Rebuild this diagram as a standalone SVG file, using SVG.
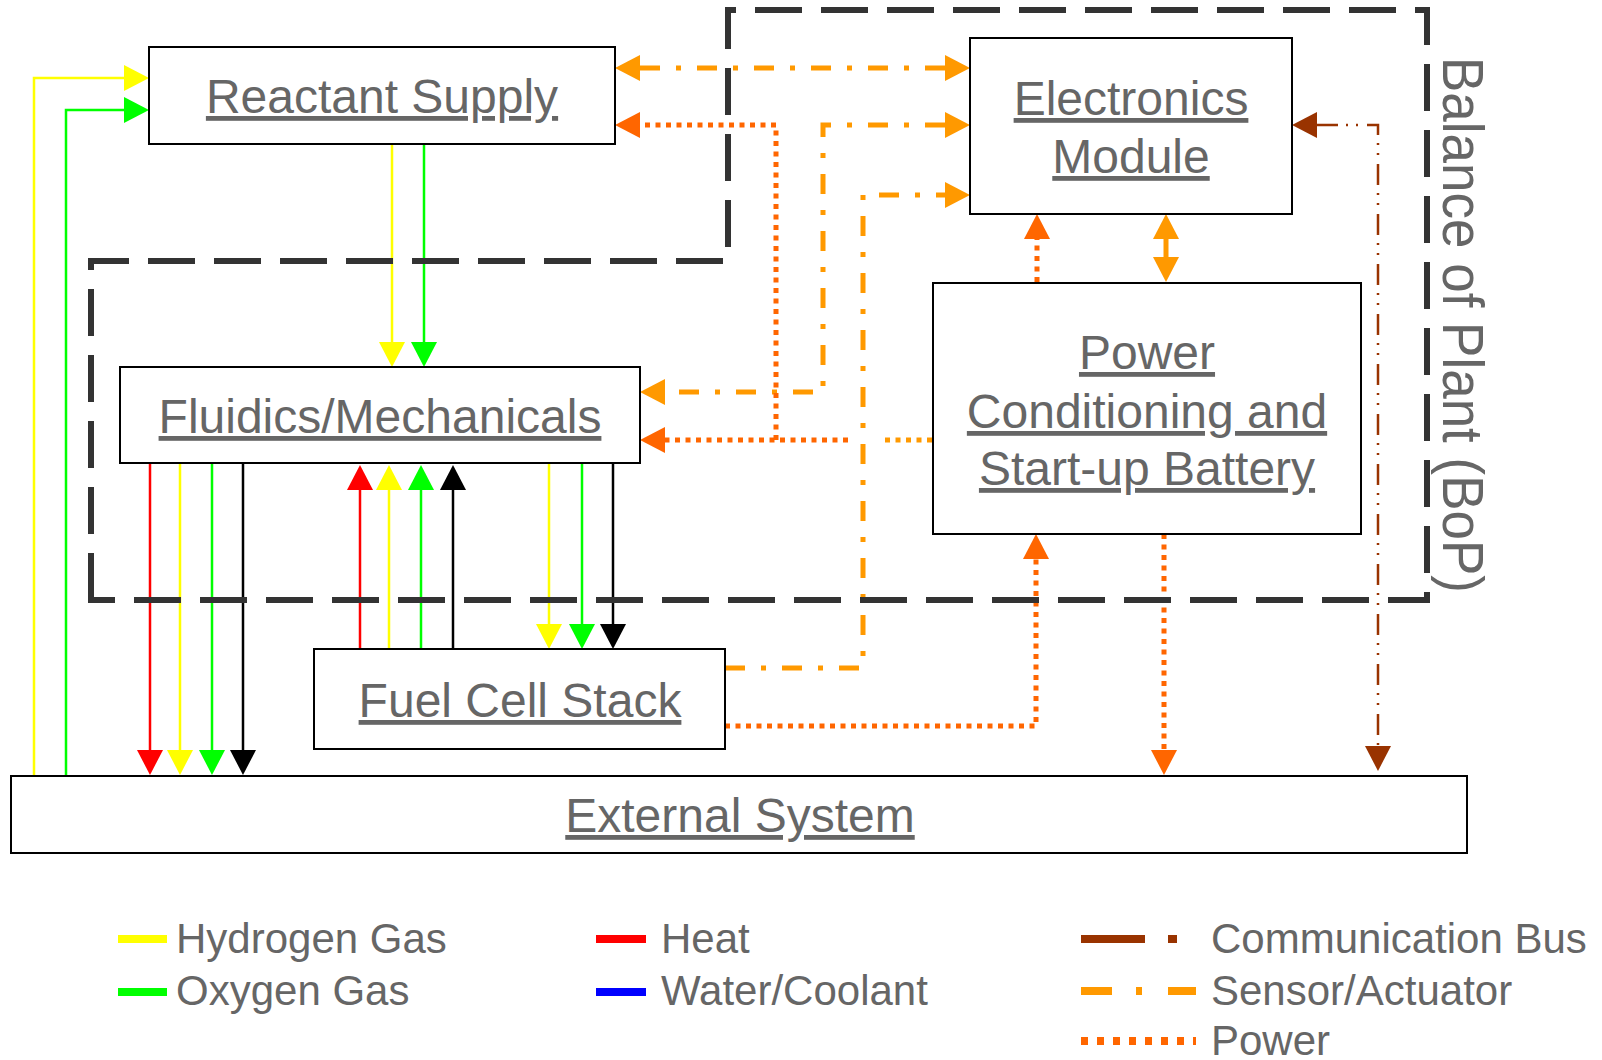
<svg xmlns="http://www.w3.org/2000/svg" width="1602" height="1060" viewBox="0 0 1602 1060">
<style>
.box{fill:#fff;stroke:#000;stroke-width:2}
.lbl{font-family:"Liberation Sans",Arial,Helvetica,sans-serif;font-size:48px;fill:#666;text-anchor:middle;text-decoration:underline}
.leg{font-family:"Liberation Sans",Arial,Helvetica,sans-serif;font-size:42px;fill:#666}
.gas{fill:none;stroke-width:2.5}
.sen{fill:none;stroke:#f90;stroke-width:5;stroke-dasharray:20 16 5 16}
.pow{fill:none;stroke:#f60;stroke-width:5;stroke-dasharray:5 5.5}
.bus{fill:none;stroke:#930;stroke-width:2.5;stroke-dasharray:21 8 2 8 2 9}
</style>
<defs>
<marker id="aY" viewBox="0 0 25 26" markerWidth="25" markerHeight="26" refX="0" refY="13" orient="auto-start-reverse" markerUnits="userSpaceOnUse"><path d="M0,0L25,13L0,26z" fill="#ff0"/></marker>
<marker id="aG" viewBox="0 0 25 26" markerWidth="25" markerHeight="26" refX="0" refY="13" orient="auto-start-reverse" markerUnits="userSpaceOnUse"><path d="M0,0L25,13L0,26z" fill="#0f0"/></marker>
<marker id="aR" viewBox="0 0 25 26" markerWidth="25" markerHeight="26" refX="0" refY="13" orient="auto-start-reverse" markerUnits="userSpaceOnUse"><path d="M0,0L25,13L0,26z" fill="#f00"/></marker>
<marker id="aK" viewBox="0 0 25 26" markerWidth="25" markerHeight="26" refX="0" refY="13" orient="auto-start-reverse" markerUnits="userSpaceOnUse"><path d="M0,0L25,13L0,26z" fill="#000"/></marker>
<marker id="aS" viewBox="0 0 25 26" markerWidth="25" markerHeight="26" refX="0" refY="13" orient="auto-start-reverse" markerUnits="userSpaceOnUse"><path d="M0,0L25,13L0,26z" fill="#f90"/></marker>
<marker id="aP" viewBox="0 0 25 26" markerWidth="25" markerHeight="26" refX="0" refY="13" orient="auto-start-reverse" markerUnits="userSpaceOnUse"><path d="M0,0L25,13L0,26z" fill="#f60"/></marker>
<marker id="aB" viewBox="0 0 25 26" markerWidth="25" markerHeight="26" refX="0" refY="13" orient="auto-start-reverse" markerUnits="userSpaceOnUse"><path d="M0,0L25,13L0,26z" fill="#930"/></marker>
</defs>
<rect width="1602" height="1060" fill="#fff"/>

<g id="connectors">
  <path class="gas" stroke="#ff0" d="M34,775V78H124" marker-end="url(#aY)"/>
  <path class="gas" stroke="#0f0" d="M66,775V110H124" marker-end="url(#aG)"/>
  <path class="gas" stroke="#ff0" d="M392,145V342" marker-end="url(#aY)"/>
  <path class="gas" stroke="#0f0" d="M424,145V342" marker-end="url(#aG)"/>
  <path class="gas" stroke="#f00" d="M150,464V750" marker-end="url(#aR)"/>
  <path class="gas" stroke="#ff0" d="M180,464V750" marker-end="url(#aY)"/>
  <path class="gas" stroke="#0f0" d="M212,464V750" marker-end="url(#aG)"/>
  <path class="gas" stroke="#000" d="M243,464V750" marker-end="url(#aK)"/>
  <path class="gas" stroke="#f00" d="M360,649V490" marker-end="url(#aR)"/>
  <path class="gas" stroke="#ff0" d="M389,649V490" marker-end="url(#aY)"/>
  <path class="gas" stroke="#0f0" d="M421,649V490" marker-end="url(#aG)"/>
  <path class="gas" stroke="#000" d="M453,649V490" marker-end="url(#aK)"/>
  <path class="gas" stroke="#ff0" d="M549,464V624" marker-end="url(#aY)"/>
  <path class="gas" stroke="#0f0" d="M582,464V624" marker-end="url(#aG)"/>
  <path class="gas" stroke="#000" d="M613,464V624" marker-end="url(#aK)"/>

  <path class="sen" d="M640,68H945" marker-start="url(#aS)" marker-end="url(#aS)"/>
  <path class="sen" d="M945,125H823V392H665" marker-start="url(#aS)" marker-end="url(#aS)"/>
  <path class="sen" d="M725,668H863V195H945" marker-end="url(#aS)"/>
  <path class="sen" d="M1166,239V257" marker-start="url(#aS)" marker-end="url(#aS)"/>

  <path class="pow" d="M848,440H665" marker-end="url(#aP)"/>
  <path class="pow" d="M776,440V125H640" marker-end="url(#aP)"/>
  <path class="pow" style="stroke:#f90" d="M932,440H880"/>
  <path class="pow" d="M1037,282V239" marker-end="url(#aP)"/>
  <path class="pow" d="M725,726H1036V559" marker-end="url(#aP)"/>
  <path class="pow" d="M1164,534V750" marker-end="url(#aP)"/>

  <path class="bus" d="M1317,125H1378V746" marker-start="url(#aB)" marker-end="url(#aB)"/>
</g>

<g id="bop">
  <path d="M91,600V261H728V10H1427V600Z" fill="none" stroke="#333" stroke-width="6" stroke-dasharray="47 19"/>
  <text transform="translate(1443,325) rotate(90)" font-family="'Liberation Sans',Arial,sans-serif" font-size="58" fill="#666" text-anchor="middle" textLength="536" lengthAdjust="spacingAndGlyphs">Balance of Plant (BoP)</text>
</g>

<g id="reactant-supply">
  <rect class="box" x="149" y="47" width="466" height="97"/>
  <text class="lbl" x="382" y="113">Reactant Supply</text>
</g>
<g id="electronics-module">
  <rect class="box" x="970" y="38" width="322" height="176"/>
  <text class="lbl" x="1131" y="115">Electronics</text>
  <text class="lbl" x="1131" y="173">Module</text>
</g>
<g id="fluidics-mechanicals">
  <rect class="box" x="120" y="367" width="520" height="96"/>
  <text class="lbl" x="380" y="433">Fluidics/Mechanicals</text>
</g>
<g id="power-conditioning">
  <rect class="box" x="933" y="283" width="428" height="251"/>
  <text class="lbl" x="1147" y="369">Power</text>
  <text class="lbl" x="1147" y="428">Conditioning and</text>
  <text class="lbl" x="1147" y="485">Start-up Battery</text>
</g>
<g id="fuel-cell-stack">
  <rect class="box" x="314" y="649" width="411" height="100"/>
  <text class="lbl" x="520" y="717">Fuel Cell Stack</text>
</g>
<g id="external-system">
  <rect class="box" x="11" y="776" width="1456" height="77"/>
  <text class="lbl" x="740" y="832">External System</text>
</g>

<g id="legend">
  <path d="M118,939H167" stroke="#ff0" stroke-width="8"/>
  <text class="leg" x="176" y="953">Hydrogen Gas</text>
  <path d="M118,992H167" stroke="#0f0" stroke-width="8"/>
  <text class="leg" x="176" y="1005">Oxygen Gas</text>
  <path d="M596,939H646" stroke="#f00" stroke-width="8"/>
  <text class="leg" x="661" y="953">Heat</text>
  <path d="M596,992H646" stroke="#00f" stroke-width="8"/>
  <text class="leg" x="661" y="1005">Water/Coolant</text>
  <path d="M1081,939H1145M1168,939H1177" stroke="#930" stroke-width="8"/>
  <text class="leg" x="1211" y="953">Communication Bus</text>
  <path d="M1081,991H1112M1136,991H1142M1168,991H1196" stroke="#f90" stroke-width="8"/>
  <text class="leg" x="1211" y="1005">Sensor/Actuator</text>
  <path d="M1081,1041H1196" stroke="#f60" stroke-width="8" stroke-dasharray="7 9"/>
  <text class="leg" x="1211" y="1055">Power</text>
</g>
</svg>
